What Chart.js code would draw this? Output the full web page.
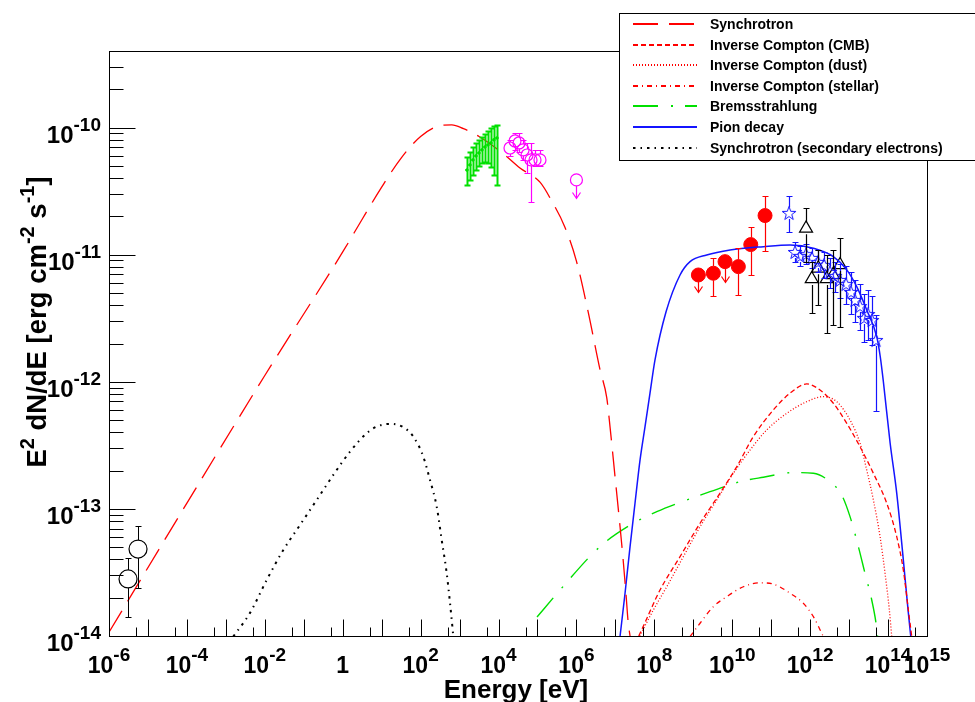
<!DOCTYPE html>
<html>
<head>
<meta charset="utf-8">
<title>SED</title>
<script src="https://cdn.jsdelivr.net/npm/chart.js@4.4.0/dist/chart.umd.min.js"></script>
<style>
body { margin: 0; background: #fff; }
#wrap { width: 975px; height: 702px; }
</style>
</head>
<body>
<div id="wrap"><canvas id="sed" width="975" height="702"></canvas></div>
<script>
// energies in eV, fluxes are E^2 dN/dE in erg cm^-2 s^-1

// --- model curves ---
var synchE = [1e-6, 1e-4, 1e-2, 1, 3.16, 10, 31.6, 100, 316, 631, 1259, 3162, 1.26e4, 3.55e4, 1.175e5, 2.34e5, 5.0e5, 1.0e6, 2.0e6, 4.04e6, 6.0e6, 7.3e6, 9.8e6, 1.32e7, 1.58e7, 1.86e7, 2.14e7, 2.38e7];
var synchF = [1.07e-14, 1.11e-13, 1.12e-12, 1.05e-11, 1.9e-11, 3.4e-11, 5.75e-11, 8.5e-11, 1.035e-10, 1.05e-10, 9.8e-11, 8.5e-11, 6.3e-11, 4.8e-11, 3.7e-11, 2.63e-11, 1.66e-11, 8.9e-12, 3.55e-12, 1.24e-12, 7.5e-13, 4.4e-13, 1.79e-13, 7.2e-14, 4.0e-14, 2.2e-14, 1.26e-14, 1.0e-14];

var cmbE = [3.98e7, 5.13e7, 1.40e8, 4.57e8, 1.49e9, 4.86e9, 1.31e10, 3.48e10, 1.135e11, 3.05e11, 8.18e11, 1.795e12, 3.94e12, 8.71e12, 1.91e13, 4.20e13, 9.27e13, 1.67e14, 2.47e14, 3.32e14, 4.06e14];
var cmbF = [1.0e-14, 1.18e-14, 2.30e-14, 4.21e-14, 7.71e-14, 1.33e-13, 2.15e-13, 3.70e-13, 6.0e-13, 8.13e-13, 9.62e-13, 8.61e-13, 6.78e-13, 4.71e-13, 3.08e-13, 1.905e-13, 1.107e-13, 6.04e-14, 3.30e-14, 1.60e-14, 9.9e-15];

var dustE = [4.2e7, 9.42e7, 2.08e8, 5.56e8, 1.49e9, 4.0e9, 1.067e10, 2.86e10, 7.69e10, 2.51e11, 8.18e11, 2.18e12, 4.82e12, 1.057e13, 1.91e13, 2.84e13, 4.20e13, 6.24e13, 8.38e13, 1.08e14, 1.245e14];
var dustF = [1.0e-14, 1.60e-14, 2.44e-14, 4.21e-14, 7.24e-14, 1.175e-13, 1.905e-13, 2.90e-13, 4.18e-13, 5.65e-13, 6.97e-13, 7.64e-13, 6.97e-13, 5.0e-13, 3.28e-13, 2.02e-13, 1.175e-13, 6.04e-14, 3.11e-14, 1.60e-14, 9.9e-15];

var stelE = [8.26e8, 1.49e9, 3.27e9, 7.23e9, 1.93e10, 5.18e10, 1.135e11, 3.05e11, 6.68e11, 1.21e12, 2.18e12];
var stelF = [9.9e-15, 1.26e-14, 1.70e-14, 2.04e-14, 2.44e-14, 2.62e-14, 2.56e-14, 2.17e-14, 1.81e-14, 1.42e-14, 9.9e-15];

var bremE = [9.73e4, 3.79e5, 4.04e6, 2.89e7, 1.153e8, 6.79e8, 2.69e9, 1.59e10, 6.3e10, 3.70e11, 1.21e12, 3.24e12, 6.47e12, 1.057e13, 1.73e13, 2.56e13, 3.81e13, 4.92e13, 5.37e13];
var bremF = [1.41e-14, 2.30e-14, 5.05e-14, 7.71e-14, 9.5e-14, 1.175e-13, 1.365e-13, 1.637e-13, 1.774e-13, 1.93e-13, 1.905e-13, 1.637e-13, 1.285e-13, 8.69e-14, 5.05e-14, 3.11e-14, 1.92e-14, 1.26e-14, 1.0e-14];

var pionE = [1.315e7, 1.77e7, 2.38e7, 3.19e7, 4.30e7, 5.77e7, 7.74e7, 1.04e8, 2.0e8, 4.57e8, 8.26e8, 2.21e9, 8.8e9, 6.3e10, 3.05e11, 1.21e12, 3.94e12, 8.71e12, 1.57e13, 2.84e13, 5.13e13, 6.3e13, 7.59e13, 1.13e14, 1.67e14, 2.47e14, 3.32e14, 3.83e14];
var pionF = [9.9e-15, 2.17e-14, 5.05e-14, 1.107e-13, 2.43e-13, 4.44e-13, 8.13e-13, 1.486e-12, 3.55e-12, 6.92e-12, 8.81e-12, 9.95e-12, 1.089e-11, 1.156e-11, 1.191e-11, 1.122e-11, 9.64e-12, 7.59e-12, 5.60e-12, 3.67e-12, 2.26e-12, 1.58e-12, 1.0e-12, 3.30e-13, 1.33e-13, 3.96e-14, 1.52e-14, 9.9e-15];

var secE = [1.55e-3, 4.17e-3, 1.12e-2, 2.99e-2, 8.0e-2, 0.215, 0.574, 1.54, 4.13, 7.46, 16.4, 36.0, 65.0, 117, 174, 259, 348, 468, 569, 667, 700];
var secF = [9.9e-15, 1.52e-14, 2.76e-14, 4.75e-14, 7.46e-14, 1.175e-13, 1.85e-13, 2.82e-13, 3.94e-13, 4.44e-13, 4.66e-13, 4.39e-13, 3.70e-13, 2.58e-13, 1.69e-13, 1.04e-13, 5.69e-14, 3.11e-14, 1.81e-14, 1.11e-14, 9.5e-15];

// --- measurements ---
var radioE = [3.08e-6, 5.56e-6];
var radioF = [2.81e-14, 4.83e-14];
var radioLo = [1.41e-14, 2.39e-14];
var radioHi = [4.11e-14, 7.33e-14];

var xrayE = [1552, 1854, 2213, 2642, 3155, 3767, 4498, 5370, 6412, 7656, 9141];
var xrayELo = [1422, 1699, 2028, 2421, 2891, 3452, 4121, 4920, 5875, 7015, 8375];
var xrayEHi = [1694, 2023, 2415, 2883, 3443, 4111, 4909, 5861, 6998, 8356, 9976];
var xrayF = [4.63e-11, 5.08e-11, 5.56e-11, 5.98e-11, 6.31e-11, 6.67e-11, 7.03e-11, 7.3e-11, 7.57e-11, 8.0e-11, 8.28e-11];
var xrayLo = [3.53e-11, 3.87e-11, 4.24e-11, 4.63e-11, 4.99e-11, 5.27e-11, 5.37e-11, 5.27e-11, 4.9e-11, 4.24e-11, 3.53e-11];
var xrayHi = [5.91e-11, 6.43e-11, 7.03e-11, 7.57e-11, 8.0e-11, 8.43e-11, 8.9e-11, 9.4e-11, 9.93e-11, 1.03e-10, 1.05e-10];

var integE = [1.97e4, 2.65e4, 3.36e4, 4.26e4, 5.39e4, 6.83e4, 8.64e4, 1.16e5, 1.0e6];
var integF = [6.90e-11, 7.84e-11, 7.56e-11, 6.67e-11, 6.08e-11, 5.56e-11, 5.56e-11, 5.56e-11, 3.87e-11];
var integLo = [5.97e-11, 6.67e-11, 6.43e-11, 5.56e-11, 4.40e-11, 2.60e-11, 4.99e-11, 4.99e-11, 2.79e-11];
var integHi = [7.98e-11, 9.06e-11, 9.06e-11, 7.98e-11, 7.56e-11, 7.56e-11, 6.67e-11, 6.67e-11, null];
var integUL = [false, false, false, false, false, false, false, false, true];

var fermiE = [1.35e9, 3.27e9, 6.53e9, 1.435e10, 2.99e10, 6.95e10];
var fermiF = [6.92e-12, 7.14e-12, 8.81e-12, 8.05e-12, 1.20e-11, 2.03e-11];
var fermiLo = [5.12e-12, 4.73e-12, 6.13e-12, 4.82e-12, 6.92e-12, 1.07e-11];
var fermiHi = [null, 9.37e-12, null, 1.122e-11, 1.66e-11, 2.90e-11];
var fermiUL = [true, false, true, false, false, false];

var hessE = [2.87e11, 4.09e11, 5.50e11, 7.85e11, 1.12e12, 1.60e12, 2.27e12, 3.24e12, 4.37e12, 5.86e12, 8.36e12, 1.12e13, 1.42e13, 1.91e13, 2.42e13, 3.07e13, 3.88e13, 4.92e13];
var hessF = [2.13e-11, 1.05e-11, 9.77e-12, 1.01e-11, 9.42e-12, 8.77e-12, 8.30e-12, 7.31e-12, 6.79e-12, 6.32e-12, 5.87e-12, 5.09e-12, 4.40e-12, 3.94e-12, 3.18e-12, 3.41e-12, 3.06e-12, 2.13e-12];
var hessLo = [1.52e-11, 8.77e-12, 8.15e-12, 8.45e-12, 7.85e-12, 7.31e-12, 6.56e-12, 5.47e-12, 5.09e-12, 4.56e-12, 4.09e-12, 3.41e-12, 2.95e-12, 2.56e-12, 2.06e-12, 2.13e-12, 1.95e-12, 5.89e-13];
var hessHi = [2.90e-11, 1.26e-11, 1.17e-11, 1.21e-11, 1.13e-11, 1.09e-11, 1.05e-11, 9.42e-12, 8.77e-12, 8.45e-12, 8.15e-12, 7.31e-12, 6.32e-12, 5.87e-12, 4.91e-12, 5.27e-12, 4.73e-12, 3.36e-12];

var magicE = [7.85e11, 1.10e12, 1.62e12, 2.67e12, 3.87e12, 5.86e12];
var magicF = [1.61e-11, 6.44e-12, 7.81e-12, 6.44e-12, 6.92e-12, 8.30e-12];
var magicLo = [8.81e-12, 3.46e-12, 4.02e-12, 2.42e-12, 2.80e-12, 2.72e-12];
var magicHi = [2.32e-11, 8.77e-12, 1.09e-11, 9.95e-12, 1.09e-11, 1.35e-11];

// axis labels
var xLabelExp = [-6, -4, -2, 0, 2, 4, 6, 8, 10, 12, 14, 15];
var yLabelExp = [-14, -13, -12, -11, -10];
var legendLabels = ['Synchrotron', 'Inverse Compton (CMB)', 'Inverse Compton (dust)', 'Inverse Compton (stellar)', 'Bremsstrahlung', 'Pion decay', 'Synchrotron (secondary electrons)'];

var FONT = '"Liberation Sans", Arial, Helvetica, sans-serif';
var RED = '#ff0000', GREEN = '#00e000', BLUE = '#1414ff', MAG = '#ff00ff';
var legendColors = [RED, RED, RED, RED, GREEN, BLUE, '#000000'];

function pts(xs, ys) {
    return xs.map(function (x, i) { return {x: x, y: ys[i]}; });
}

function curve(label, xs, ys, color, width, dash) {
    return {
        label: label, data: pts(xs, ys), showLine: true, fill: false,
        borderColor: color, borderWidth: width, borderDash: dash,
        pointRadius: 0, pointHoverRadius: 0, clip: 0,
        cubicInterpolationMode: 'monotone'
    };
}

// open star marker like ROOT's
function starMarker(size, color) {
    var c = document.createElement('canvas');
    c.width = c.height = size;
    var g = c.getContext('2d');
    g.strokeStyle = color;
    g.lineWidth = 1;
    var cx = size / 2, cy = size / 2 + 0.7, R = size / 2 - 0.8, r = R * 0.4;
    g.beginPath();
    for (var k = 0; k < 10; k++) {
        var a = -Math.PI / 2 + k * Math.PI / 5;
        var rr = (k % 2) ? r : R;
        var X = cx + rr * Math.cos(a), Y = cy + rr * Math.sin(a);
        if (k === 0) g.moveTo(X, Y); else g.lineTo(X, Y);
    }
    g.closePath();
    g.stroke();
    return c;
}

var datasets = [
    curve('Synchrotron', synchE, synchF, RED, 1.3, [25, 11]),
    curve('Inverse Compton (CMB)', cmbE, cmbF, RED, 1.3, [5, 3]),
    curve('Inverse Compton (dust)', dustE, dustF, RED, 1.3, [1, 2]),
    curve('Inverse Compton (stellar)', stelE, stelF, RED, 1.3, [5, 4, 1, 4]),
    curve('Bremsstrahlung', bremE, bremF, GREEN, 1.4, [25, 13, 2, 12]),
    curve('Pion decay', pionE, pionF, BLUE, 1.5, []),
    curve('Synchrotron (secondary electrons)', secE, secF, '#000000', 2, [2.5, 5, 1.5, 5]),
    {
        label: 'radio', data: pts(radioE, radioF), pointStyle: 'circle', pointRadius: 9,
        borderColor: '#000', backgroundColor: 'rgba(0,0,0,0)', pointBorderWidth: 1.2,
        errLo: radioLo, errHi: radioHi, gap: 9, cap: 3, barColor: '#000', barWidth: 1
    },
    {
        label: 'xray', data: pts(xrayE, xrayF), pointStyle: 'rect', pointRadius: 1.5,
        borderColor: GREEN, backgroundColor: GREEN, pointBorderWidth: 1,
        errLo: xrayLo, errHi: xrayHi, errXLo: xrayELo, errXHi: xrayEHi, gap: 0, cap: 3, barColor: GREEN, barWidth: 2
    },
    {
        label: 'integral', data: pts(integE, integF), pointStyle: 'circle', pointRadius: 6,
        borderColor: MAG, backgroundColor: 'rgba(0,0,0,0)', pointBorderWidth: 1.2,
        errLo: integLo, errHi: integHi, ul: integUL, gap: 6, cap: 3, barColor: MAG, barWidth: 1.2
    },
    {
        label: 'fermi', data: pts(fermiE, fermiF), pointStyle: 'circle', pointRadius: 7,
        borderColor: RED, backgroundColor: RED, pointBorderWidth: 1,
        errLo: fermiLo, errHi: fermiHi, ul: fermiUL, gap: 7, cap: 3, barColor: RED, barWidth: 1.2
    },
    {
        label: 'hess', data: pts(hessE, hessF), pointStyle: starMarker(16, BLUE), pointRadius: 8,
        borderColor: BLUE, backgroundColor: 'rgba(0,0,0,0)',
        errLo: hessLo, errHi: hessHi, gap: 6, cap: 3, barColor: BLUE, barWidth: 1.2
    },
    {
        label: 'magic', data: pts(magicE, magicF), pointStyle: 'triangle', pointRadius: 7.5,
        borderColor: '#000', backgroundColor: 'rgba(0,0,0,0)', pointBorderWidth: 1.2,
        errLo: magicLo, errHi: magicHi, gap: 6, cap: 3, barColor: '#000', barWidth: 1.2
    }
];

var errorBars = {
    id: 'errorBars',
    afterDatasetsDraw: function (chart) {
        var ctx = chart.ctx, xs = chart.scales.x, ys = chart.scales.y;
        chart.data.datasets.forEach(function (ds) {
            if (!ds.errLo) return;
            ctx.save();
            ctx.strokeStyle = ds.barColor;
            ctx.lineWidth = ds.barWidth;
            ctx.setLineDash([]);
            ds.data.forEach(function (p, i) {
                var px = Math.round(xs.getPixelForValue(p.x)) + 0.5;
                var py = ys.getPixelForValue(p.y);
                var g = ds.gap, c = ds.cap;
                ctx.beginPath();
                if (ds.errHi[i] != null) {
                    var hy = Math.round(ys.getPixelForValue(ds.errHi[i])) + 0.5;
                    if (hy < py - g) {
                        ctx.moveTo(px, py - g); ctx.lineTo(px, hy);
                        ctx.moveTo(px - c, hy); ctx.lineTo(px + c, hy);
                    }
                }
                var ly = Math.round(ys.getPixelForValue(ds.errLo[i])) + 0.5;
                if (ds.ul && ds.ul[i]) {
                    ctx.moveTo(px, py + g); ctx.lineTo(px, ly);
                    ctx.moveTo(px - 4, ly - 6); ctx.lineTo(px, ly); ctx.lineTo(px + 4, ly - 6);
                } else if (ly > py + g) {
                    ctx.moveTo(px, py + g); ctx.lineTo(px, ly);
                    ctx.moveTo(px - c, ly); ctx.lineTo(px + c, ly);
                }
                if (ds.errXLo) {
                    var x1 = xs.getPixelForValue(ds.errXLo[i]), x2 = xs.getPixelForValue(ds.errXHi[i]);
                    ctx.moveTo(x1, py); ctx.lineTo(x2, py);
                }
                ctx.stroke();
            });
            ctx.restore();
        });
    }
};

// draws text runs, some raised as superscripts (ROOT style "10^{-6}")
function drawParts(ctx, parts, x, y, size, supSize, supRise, align) {
    var w = 0;
    parts.forEach(function (p) {
        ctx.font = 'bold ' + (p[1] ? supSize : size) + 'px ' + FONT;
        w += ctx.measureText(p[0]).width;
    });
    var sx = align === 'center' ? x - w / 2 : (align === 'right' ? x - w : x);
    ctx.textAlign = 'left';
    parts.forEach(function (p) {
        ctx.font = 'bold ' + (p[1] ? supSize : size) + 'px ' + FONT;
        ctx.fillText(p[0], sx, p[1] ? y - supRise : y);
        sx += ctx.measureText(p[0]).width;
    });
}

function powLabel(e) {
    if (e === 0) return [['1', false]];
    return [['10', false], [String(e), true]];
}

var rootFrame = {
    id: 'rootFrame',
    afterDraw: function (chart) {
        var ctx = chart.ctx, a = chart.chartArea, xs = chart.scales.x, ys = chart.scales.y;
        ctx.save();
        ctx.setLineDash([]);
        ctx.lineDashOffset = 0;
        ctx.strokeStyle = '#000';
        ctx.lineWidth = 1;
        var L = Math.round(a.left) + 0.5, R = Math.round(a.right) + 0.5;
        var T = Math.round(a.top) + 0.5, B = Math.round(a.bottom) + 0.5;
        ctx.strokeRect(L, T, R - L, B - T);

        ctx.beginPath();
        // x ticks: every decade long, 5x10^n short
        for (var d = -6; d <= 15; d++) {
            var tx = Math.round(xs.getPixelForValue(Math.pow(10, d))) + 0.5;
            ctx.moveTo(tx, B); ctx.lineTo(tx, B - 17);
            if (d < 15) {
                var mx = Math.round(xs.getPixelForValue(5 * Math.pow(10, d))) + 0.5;
                ctx.moveTo(mx, B); ctx.lineTo(mx, B - 9);
            }
        }
        // y ticks: decades long, 2..9 short
        for (var e = -14; e <= -10; e++) {
            var ty = Math.round(ys.getPixelForValue(Math.pow(10, e))) + 0.5;
            ctx.moveTo(L, ty); ctx.lineTo(L + 26, ty);
            for (var m = 2; m <= 9; m++) {
                var v = m * Math.pow(10, e);
                if (v > ys.max) break;
                var my = Math.round(ys.getPixelForValue(v)) + 0.5;
                ctx.moveTo(L, my); ctx.lineTo(L + 14, my);
            }
        }
        ctx.stroke();

        ctx.fillStyle = '#000';
        ctx.textBaseline = 'alphabetic';
        xLabelExp.forEach(function (e) {
            var tx = xs.getPixelForValue(Math.pow(10, e));
            drawParts(ctx, powLabel(e), tx, 673, 23, 19, 12, 'center');
        });
        yLabelExp.forEach(function (e) {
            var ty = ys.getPixelForValue(Math.pow(10, e));
            drawParts(ctx, powLabel(e), 101, ty + 15, 24, 19, 12, 'right');
        });

        // axis titles
        drawParts(ctx, [['Energy [eV]', false]], 516, 698, 26, 18, 0, 'center');
        ctx.save();
        ctx.translate(46, 322);
        ctx.rotate(-Math.PI / 2);
        drawParts(ctx, [['E', false], ['2', true], [' dN/dE [erg cm', false], ['-2', true], [' s', false], ['-1', true], [']', false]], 0, 0, 27.5, 20, 12, 'center');
        ctx.restore();

        // legend box
        ctx.fillStyle = '#fff';
        ctx.fillRect(619.5, 13.5, 370, 147);
        ctx.strokeStyle = '#000';
        ctx.lineWidth = 1;
        ctx.strokeRect(619.5, 13.5, 370, 147);
        legendLabels.forEach(function (lab, i) {
            var ds = chart.data.datasets[i];
            var ly = Math.round(24 + i * 20.6);
            ctx.strokeStyle = legendColors[i];
            ctx.lineWidth = 2;
            ctx.setLineDash(ds.borderDash);
            ctx.lineDashOffset = 0;
            ctx.beginPath();
            ctx.moveTo(633, ly); ctx.lineTo(697, ly);
            ctx.stroke();
            ctx.setLineDash([]);
            ctx.fillStyle = '#000';
            ctx.font = 'bold 14px ' + FONT;
            ctx.textAlign = 'left';
            ctx.fillText(lab, 710, ly + 5);
        });
        ctx.restore();
    }
};

var chart = new Chart(document.getElementById('sed'), {
    type: 'scatter',
    data: {datasets: datasets},
    options: {
        responsive: false,
        animation: false,
        devicePixelRatio: 1,
        layout: {padding: {left: 109, right: 48, top: 51, bottom: 66}},
        plugins: {legend: {display: false}, tooltip: {enabled: false}},
        scales: {
            x: {type: 'logarithmic', min: 1e-6, max: 1e15, display: false},
            y: {type: 'logarithmic', min: 1e-14, max: 4e-10, display: false}
        }
    },
    plugins: [errorBars, rootFrame]
});
</script>
</body>
</html>
